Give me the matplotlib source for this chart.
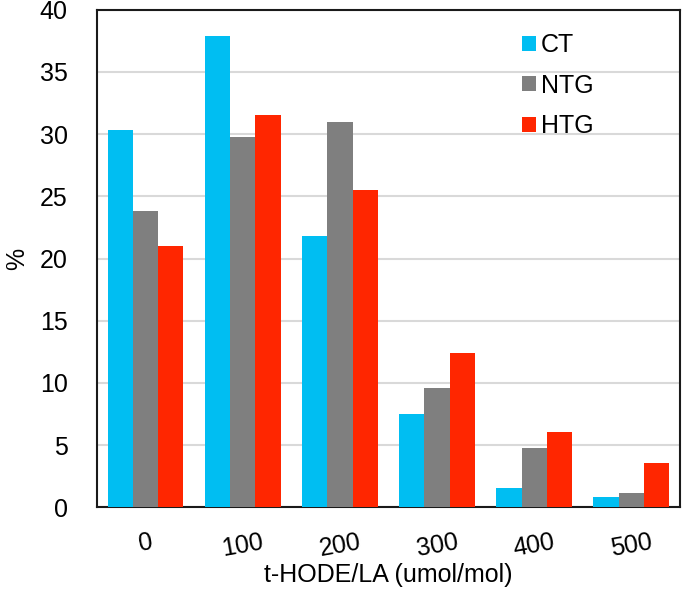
import numpy as np
import matplotlib.pyplot as plt

plt.rcParams['font.family'] = ['Liberation Sans', 'DejaVu Sans']

# data
categories = ['0', '100', '200', '300', '400', '500']
ct = [30.3, 37.9, 21.8, 7.5, 1.6, 0.8]
ntg = [23.8, 29.8, 31.0, 9.6, 4.8, 1.15]
htg = [21.0, 31.5, 25.5, 12.4, 6.1, 3.6]
series_names = ['CT', 'NTG', 'HTG']
colors = ['#00BEF2', '#7F7F7F', '#FF2600']

fig = plt.figure(figsize=(6.85, 5.97), dpi=100)
ax = fig.add_axes([0.1416, 0.150, 0.851, 0.834])

x = np.arange(len(categories))
w = 0.26
for i, (vals, name, c) in enumerate(zip([ct, ntg, htg], series_names, colors)):
    ax.bar(x + (i - 1) * w, vals, width=w, color=c, label=name, zorder=3)

ax.set_xlim(-0.5, len(categories) - 0.5)
ax.set_ylim(0, 40)
ax.set_yticks(range(0, 41, 5))
ax.set_xticks(x)
ax.set_xticklabels(categories, rotation=10)
ax.yaxis.grid(True, color='#d9d9d9', linewidth=1.5, zorder=0)
ax.tick_params(axis='both', length=0, labelsize=18)
ax.tick_params(axis='y', pad=21)
ax.tick_params(axis='x', pad=16)
for s in ax.spines.values():
    s.set_linewidth(1.5)
    s.set_color('#1a1a1a')

ax.set_xlabel('t-HODE/LA (umol/mol)', fontsize=18, labelpad=2)
ax.set_ylabel('%', fontsize=18, labelpad=8)

leg = ax.legend(loc='upper right', bbox_to_anchor=(0.89, 0.998), frameon=False,
                fontsize=18, handlelength=0.55, handleheight=0.55,
                handletextpad=0.2, labelspacing=0.66)

fig.savefig('out.png', dpi=100)
